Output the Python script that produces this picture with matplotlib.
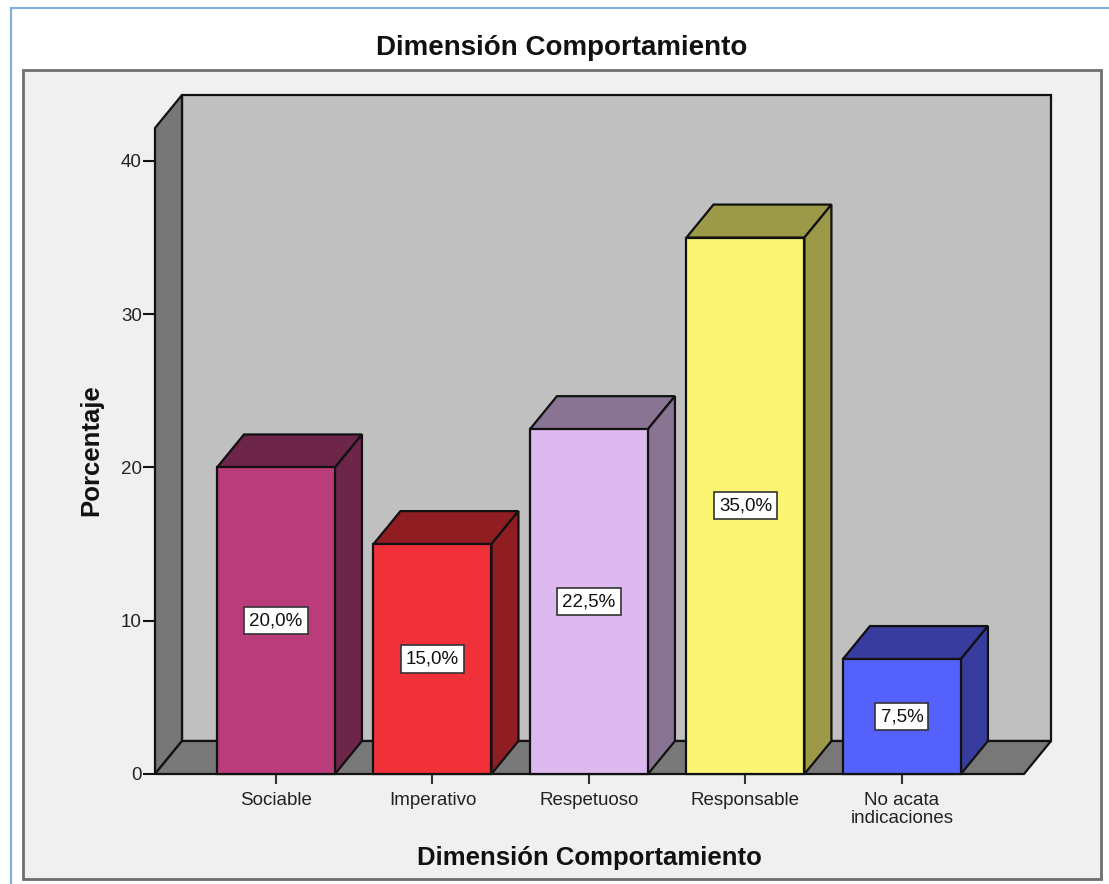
import matplotlib
matplotlib.use("Agg")
import matplotlib.pyplot as plt
from matplotlib.patches import Polygon, Rectangle

# frequencies per category (percent)
categorias = ["Sociable", "Imperativo", "Respetuoso", "Responsable", "No acata\nindicaciones"]
porcentajes = [20.0, 15.0, 22.5, 35.0, 7.5]
etiquetas = ["20,0%", "15,0%", "22,5%", "35,0%", "7,5%"]
color_frente = ["#BA3C7B", "#F0313A", "#DDB9F0", "#FAF674", "#5561FD"]
color_lado = ["#6E254A", "#8F1D22", "#8A7494", "#9C9A48", "#383C9E"]
yticks = [0, 10, 20, 30, 40]

plt.rcParams['font.family'] = ['Liberation Sans', 'DejaVu Sans']

W, H = 1109, 884
fig = plt.figure(figsize=(W / 100, H / 100), dpi=100)
fig.patch.set_facecolor("white")

def fx(px):
    return px / W

def fy(py):
    return 1 - py / H

# outer blue border and grey chart frame
fig.add_artist(plt.Line2D([fx(11), fx(11)], [fy(8), 0], color="#7FAEE3", lw=1.5))
fig.add_artist(plt.Line2D([fx(11), 1], [fy(8), fy(8)], color="#7FAEE3", lw=1.5))
fig.add_artist(Rectangle((fx(23), fy(879)), fx(1101) - fx(23), fy(70) - fy(879),
                         transform=fig.transFigure, facecolor="#F0F0F0",
                         edgecolor="#6E6E6E", lw=2, zorder=0))

ax = fig.add_axes([fx(155), fy(774), fx(1024) - fx(155), fy(128) - fy(774)])
ax.patch.set_visible(False)
for s in ax.spines.values():
    s.set_visible(False)

xmin, xmax = -0.773, 4.78
ymax = 42.15
dx, dy = 0.1725, 2.153
ancho = 0.754
ax.set_xlim(xmin, xmax)
ax.set_ylim(0, ymax)

edge = dict(edgecolor="#111111", lw=1.6, clip_on=False, joinstyle="miter")

# back wall, left wall and floor
ax.add_patch(Rectangle((xmin + dx, dy), xmax - xmin, ymax, facecolor="#C0C0C0", zorder=1, **edge))
ax.add_patch(Polygon([(xmin, 0), (xmin, ymax), (xmin + dx, ymax + dy), (xmin + dx, dy)],
                     closed=True, facecolor="#777777", zorder=2, **edge))
ax.add_patch(Polygon([(xmin, 0), (xmax, 0), (xmax + dx, dy), (xmin + dx, dy)],
                     closed=True, facecolor="#787878", zorder=2, **edge))

# 3d bars
for i, v in enumerate(porcentajes):
    x0, x1 = i - ancho / 2, i + ancho / 2
    ax.add_patch(Polygon([(x0, v), (x1, v), (x1 + dx, v + dy), (x0 + dx, v + dy)],
                         closed=True, facecolor=color_lado[i], zorder=3, **edge))
    ax.add_patch(Polygon([(x1, 0), (x1 + dx, dy), (x1 + dx, v + dy), (x1, v)],
                         closed=True, facecolor=color_lado[i], zorder=3, **edge))
    ax.add_patch(Rectangle((x0, 0), ancho, v, facecolor=color_frente[i], zorder=4, **edge))
    ax.text(i, v / 2, etiquetas[i], ha="center", va="center", fontsize=13.5,
            color="#111111", zorder=5,
            bbox=dict(boxstyle="square,pad=0.27", facecolor="white",
                      edgecolor="#333333", lw=1.2))

ax.set_yticks(yticks)
ax.set_yticklabels([str(t) for t in yticks])
ax.set_xticks(range(len(categorias)))
ax.set_xticklabels(categorias, linespacing=1.05)
ax.tick_params(axis="y", direction="out", length=8.5, width=1.5, pad=1,
               labelsize=13.5, labelcolor="#222222", color="#111111")
ax.tick_params(axis="x", direction="out", length=7, width=1.5, pad=6,
               labelsize=13.5, labelcolor="#222222", color="#333333")

fig.text(fx(562), fy(48), "Dimensión Comportamiento", ha="center", va="center",
         fontsize=20, fontweight="bold", color="#111111")
fig.text(fx(589), fy(858), "Dimensión Comportamiento", ha="center", va="center",
         fontsize=18.5, fontweight="bold", color="#111111")
fig.text(fx(91), fy(450), "Porcentaje", ha="center", va="center", rotation=90,
         fontsize=18.5, fontweight="bold", color="#111111")

fig.savefig("out.png", dpi=100)
